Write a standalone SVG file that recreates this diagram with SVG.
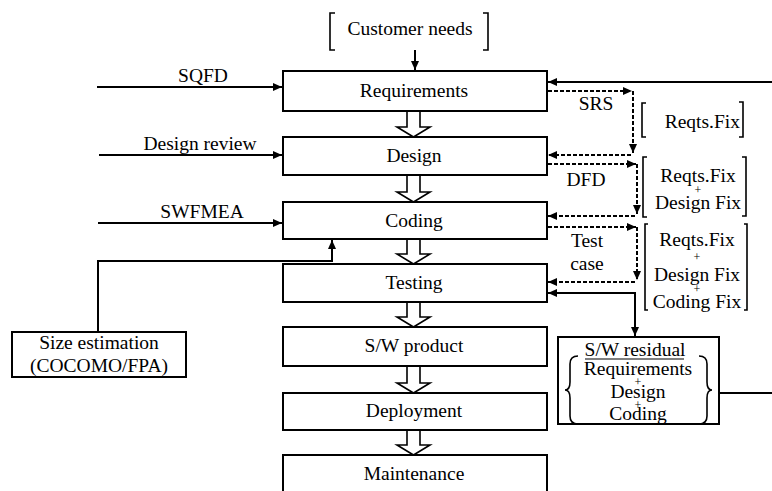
<svg xmlns="http://www.w3.org/2000/svg" width="772" height="491" viewBox="0 0 772 491" font-family="'Liberation Serif', 'Times New Roman', Times, serif">
<style>
text{font-family:'Liberation Serif','Times New Roman',Times,serif;font-size:19.5px;fill:#000}
.c{text-anchor:middle}
.e{text-anchor:end}
.p{font-size:12px}
.box{fill:#fff;stroke:#000;stroke-width:2}
.ln{fill:none;stroke:#000;stroke-width:2}
.ds{fill:none;stroke:#000;stroke-width:2;stroke-dasharray:4 2}
.br{fill:none;stroke:#000;stroke-width:1.6}
.ha{fill:#fff;stroke:#000;stroke-width:1.6}
</style>
<defs>
<marker id="ah" markerUnits="userSpaceOnUse" markerWidth="10" markerHeight="8" refX="9" refY="4" orient="auto-start-reverse"><path d="M0,0 L9,4 L0,8 z" fill="#000"/></marker>
</defs>
<g id="connectors">
<path class="ln" d="M415,50 V70" marker-end="url(#ah)"/>
<path class="ln" d="M97,87 H282" marker-end="url(#ah)"/>
<path class="ln" d="M99,155 H282" marker-end="url(#ah)"/>
<path class="ln" d="M98,223 H282" marker-end="url(#ah)"/>
<path class="ln" d="M98,332 V261 H332 V240" marker-end="url(#ah)"/>
<path class="ln" d="M772,82 H548" marker-end="url(#ah)"/>
<path class="ds" d="M548,91 H632" marker-end="url(#ah)"/>
<path class="ds" d="M633,91 V153" marker-end="url(#ah)"/>
<path class="ds" d="M631,155 H548" marker-end="url(#ah)"/>
<path class="ds" d="M548,164 H636" marker-end="url(#ah)"/>
<path class="ds" d="M637,164 V214" marker-end="url(#ah)"/>
<path class="ds" d="M635,216 H548" marker-end="url(#ah)"/>
<path class="ds" d="M548,227 H636" marker-end="url(#ah)"/>
<path class="ds" d="M637,227 V280" marker-end="url(#ah)"/>
<path class="ds" d="M635,282 H548" marker-end="url(#ah)"/>
<path class="ln" d="M548,293 H635 V336" marker-start="url(#ah)" marker-end="url(#ah)"/>
<path class="ln" d="M720,393 H772"/>
<path class="ha" d="M407,111 V127 H397 L413.5,137 L430,127 H420 V111"/>
<path class="ha" d="M407,175 V192 H397 L413.5,202 L430,192 H420 V175"/>
<path class="ha" d="M407,239 V254 H397 L413.5,264 L430,254 H420 V239"/>
<path class="ha" d="M407,302 V317 H397 L413.5,327 L430,317 H420 V302"/>
<path class="ha" d="M407,366 V383 H397 L413.5,393 L430,383 H420 V366"/>
<path class="ha" d="M407,430 V445 H397 L413.5,455 L430,445 H420 V430"/>
<text x="203" y="82" class="c">SQFD</text>
<text x="200" y="150" class="c">Design review</text>
<text x="202" y="218" class="c">SWFMEA</text>
<text x="596" y="110" class="c">SRS</text>
<text x="586" y="186" class="c">DFD</text>
<text x="587" y="247" class="c">Test</text>
<text x="587" y="270" class="c">case</text>
</g>
<g id="customer-needs">
<path class="br" d="M335,13 H330 V50 H335 M483,13 H488 V50 H483"/>
<text x="410" y="35" class="c">Customer needs</text>
</g>
<g id="requirements"><rect class="box" x="283" y="71" width="264" height="40"/><text x="414" y="97" class="c">Requirements</text></g>
<g id="design"><rect class="box" x="283" y="137" width="264" height="38"/><text x="414" y="162" class="c">Design</text></g>
<g id="coding"><rect class="box" x="283" y="202" width="264" height="37"/><text x="414" y="227" class="c">Coding</text></g>
<g id="testing"><rect class="box" x="283" y="264" width="264" height="38"/><text x="414" y="289" class="c">Testing</text></g>
<g id="sw-product"><rect class="box" x="283" y="327" width="264" height="39"/><text x="414" y="352" class="c">S/W product</text></g>
<g id="deployment"><rect class="box" x="283" y="393" width="264" height="37"/><text x="414" y="417" class="c">Deployment</text></g>
<g id="maintenance"><rect class="box" x="283" y="455" width="264" height="60"/><text x="414" y="480" class="c">Maintenance</text></g>
<g id="size-estimation"><rect class="box" x="12" y="332" width="174" height="45"/><text x="99" y="349" class="c">Size estimation</text><text x="99" y="372" class="c">(COCOMO/FPA)</text></g>
<g id="fix1">
<path class="br" d="M646,103 H642 V137 H646 M739,102 H743 V137 H739"/>
<text x="740" y="128" class="e">Reqts.Fix</text>
</g>
<g id="fix2">
<path class="br" d="M647,157 H643 V217 H647 M742,157 H746 V216 H742"/>
<text x="698" y="182" class="c">Reqts.Fix</text>
<text x="698" y="194" class="c p">+</text>
<text x="698" y="209" class="c">Design Fix</text>
</g>
<g id="fix3">
<path class="br" d="M648,224 H645 V310 H648 M744,224 H747 V310 H744"/>
<text x="697" y="246" class="c">Reqts.Fix</text>
<text x="697" y="261" class="c p">+</text>
<text x="697" y="281" class="c">Design Fix</text>
<text x="697" y="293" class="c p">+</text>
<text x="697" y="308" class="c">Coding Fix</text>
</g>
<g id="sw-residual">
<rect class="box" x="558" y="337" width="161" height="87"/>
<text x="635" y="356" class="c">S/W residual</text>
<path d="M585,359 H684" stroke="#000" stroke-width="1.2"/>
<path class="br" d="M578,356 Q570,356 570,364 L570,382 Q570,390 565,390 Q570,390 570,398 L570,416 Q570,424 578,424"/>
<path class="br" d="M699,356 Q707,356 707,364 L707,382 Q707,390 712,390 Q707,390 707,398 L707,416 Q707,424 699,424"/>
<text x="638" y="375" class="c">Requirements</text>
<text x="638" y="386" class="c p">+</text>
<text x="638" y="398" class="c">Design</text>
<text x="638" y="409" class="c p">+</text>
<text x="638" y="420" class="c">Coding</text>
</g>
</svg>
